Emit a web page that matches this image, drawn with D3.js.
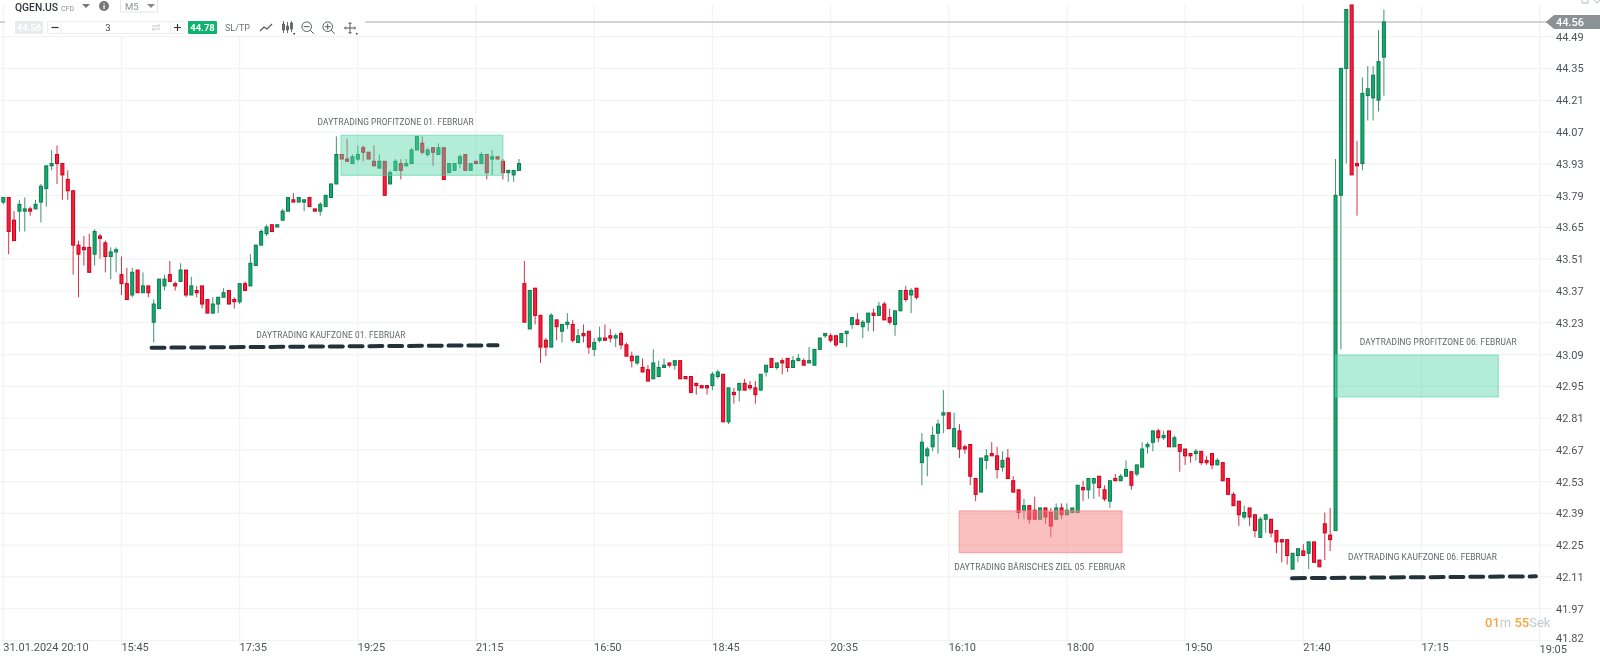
<!DOCTYPE html>
<html>
<head>
<meta charset="utf-8">
<title>QGEN.US M5</title>
<script src="https://cdn.jsdelivr.net/npm/d3@7"></script>
<style>
html, body { margin: 0; padding: 0; background: #fff; overflow: hidden; }
svg { display: block; font-family: Roboto, sans-serif; filter: blur(0.35px); }
.axis text { font-family: Roboto, sans-serif; font-size: 11px; fill: #4f5459; }
.axis .domain { display: none; }
.note { font-family: Roboto, sans-serif; font-size: 8.3px; fill: #5f6468; }
</style>
</head>
<body>
<div id="chart"></div>
<script>
// 5 minute bars
const opens = [
  43.76,43.78,43.68,43.72,43.72,43.73,43.73,43.76,43.82,43.92,
  43.97,43.93,43.86,43.81,43.57,43.56,43.56,43.53,43.61,43.58,
  43.52,43.54,43.44,43.40,43.35,43.46,43.36,43.39,43.23,43.29,
  43.39,43.44,43.40,43.41,43.46,43.35,43.37,43.39,43.33,43.27,
  43.31,43.34,43.37,43.33,43.32,43.40,43.39,43.48,43.57,43.62,
  43.66,43.65,43.68,43.72,43.77,43.76,43.76,43.78,43.73,43.72,
  43.74,43.78,43.84,43.97,43.95,43.93,43.95,44.00,43.98,43.94,
  43.91,43.94,43.84,43.90,43.93,43.92,43.93,43.99,44.02,43.97,
  44.00,43.97,44.00,43.89,43.90,43.93,43.97,43.90,43.94,43.93,
  43.97,43.95,43.96,43.94,43.89,43.88,43.90,43.40,43.20,43.38,
  43.26,43.15,43.12,43.24,43.19,43.22,43.22,43.14,43.18,43.19,
  43.11,43.15,43.16,43.17,43.16,43.18,43.13,43.08,43.05,43.03,
  43.02,42.98,42.99,43.03,43.05,43.04,43.06,42.99,42.99,42.96,
  42.95,42.95,42.95,42.99,43.00,42.79,42.92,42.93,42.96,42.95,
  42.94,42.93,43.01,43.07,43.03,43.06,43.07,43.03,43.06,43.06,
  43.05,43.04,43.11,43.17,43.17,43.17,43.14,43.18,43.22,43.24,
  43.21,43.23,43.27,43.26,43.31,43.25,43.22,43.28,43.37,43.35,
  43.38,42.61,42.64,42.68,42.74,42.82,42.83,42.68,42.75,42.68,
  42.69,42.54,42.48,42.62,42.65,42.64,42.59,42.63,42.53,42.49,
  42.40,42.42,42.40,42.36,42.41,42.39,42.36,42.41,42.38,42.39,
  42.39,42.50,42.49,42.52,42.55,42.49,42.44,42.54,42.53,42.55,
  42.57,42.56,42.59,42.68,42.70,42.75,42.72,42.75,42.68,42.69,
  42.67,42.65,42.65,42.66,42.62,42.65,42.60,42.61,42.54,42.47,
  42.44,42.37,42.41,42.38,42.28,42.36,42.36,42.31,42.27,42.27,
  42.14,42.20,42.22,42.21,42.26,42.18,42.34,42.29,42.31,43.79,
  44.35,44.63,43.93,43.93,44.23,44.22,44.21,44.40
];
const highs = [
  43.78,43.78,43.72,43.77,43.78,43.74,43.77,43.84,43.92,43.99,
  44.01,43.93,43.90,43.81,43.59,43.61,43.62,43.64,43.62,43.59,
  43.56,43.56,43.52,43.47,43.47,43.46,43.45,43.39,43.33,43.42,
  43.44,43.50,43.41,43.49,43.46,43.43,43.39,43.39,43.33,43.34,
  43.34,43.38,43.37,43.34,43.40,43.41,43.53,43.57,43.64,43.66,
  43.66,43.66,43.73,43.78,43.80,43.78,43.77,43.78,43.73,43.76,
  43.79,43.84,44.05,43.97,44.04,43.97,44.01,44.01,43.98,44.01,
  43.97,43.94,43.90,43.95,43.95,43.95,44.00,44.05,44.05,44.00,
  44.00,44.02,44.00,43.93,43.93,43.97,43.97,43.93,43.94,43.98,
  43.97,43.99,43.96,43.95,43.90,43.90,43.95,43.50,43.37,43.38,
  43.26,43.16,43.27,43.24,43.22,43.27,43.24,43.20,43.22,43.19,
  43.16,43.21,43.22,43.20,43.18,43.19,43.14,43.10,43.08,43.07,
  43.04,43.11,43.06,43.07,43.05,43.06,43.06,42.99,42.99,42.96,
  42.95,42.95,43.01,43.02,43.00,42.94,42.94,42.96,42.98,42.97,
  42.97,43.00,43.04,43.07,43.05,43.07,43.07,43.08,43.09,43.07,
  43.12,43.11,43.16,43.18,43.18,43.17,43.18,43.19,43.25,43.27,
  43.24,43.27,43.29,43.32,43.32,43.29,43.28,43.37,43.39,43.38,
  43.38,42.74,42.68,42.77,42.80,42.93,42.83,42.83,42.78,42.69,
  42.69,42.54,42.63,42.67,42.70,42.68,42.66,42.67,42.55,42.49,
  42.45,42.42,42.46,42.41,42.41,42.41,42.43,42.43,42.43,42.41,
  42.51,42.53,42.54,42.54,42.55,42.51,42.53,42.56,42.56,42.62,
  42.57,42.60,42.70,42.70,42.75,42.76,42.75,42.75,42.73,42.69,
  42.67,42.65,42.67,42.66,42.64,42.65,42.63,42.61,42.54,42.48,
  42.44,42.42,42.41,42.38,42.37,42.38,42.36,42.31,42.27,42.27,
  42.21,42.23,42.25,42.26,42.26,42.18,42.39,42.41,43.95,44.35,
  44.61,44.63,44.03,44.31,44.36,44.36,44.52,44.61
];
const lows = [
  43.75,43.53,43.59,43.63,43.63,43.70,43.73,43.67,43.74,43.90,
  43.84,43.77,43.77,43.44,43.34,43.48,43.45,43.48,43.51,43.45,
  43.42,43.45,43.35,43.33,43.34,43.36,43.36,43.34,43.14,43.29,
  43.37,43.41,43.37,43.41,43.34,43.35,43.34,43.29,43.27,43.27,
  43.27,43.34,43.31,43.29,43.31,43.37,43.39,43.48,43.57,43.61,
  43.63,43.65,43.68,43.72,43.76,43.76,43.72,43.74,43.72,43.70,
  43.74,43.78,43.84,43.95,43.94,43.93,43.94,43.94,43.95,43.92,
  43.91,43.79,43.84,43.90,43.86,43.92,43.93,43.99,43.97,43.96,
  43.92,43.97,43.86,43.89,43.90,43.91,43.90,43.90,43.93,43.93,
  43.86,43.88,43.95,43.86,43.85,43.85,43.90,43.23,43.20,43.22,
  43.05,43.08,43.12,43.15,43.14,43.20,43.14,43.14,43.14,43.09,
  43.08,43.14,43.15,43.14,43.12,43.11,43.08,43.03,43.04,43.01,
  42.97,42.98,42.99,43.03,43.03,43.02,42.98,42.98,42.92,42.91,
  42.94,42.91,42.93,42.98,42.79,42.78,42.87,42.88,42.93,42.93,
  42.87,42.93,42.99,43.03,43.02,43.00,43.01,43.03,43.06,43.04,
  43.05,43.04,43.11,43.16,43.14,43.12,43.14,43.12,43.20,43.22,
  43.16,43.19,43.19,43.26,43.24,43.22,43.17,43.28,43.32,43.27,
  43.33,42.51,42.55,42.66,42.65,42.74,42.76,42.68,42.63,42.65,
  42.51,42.44,42.48,42.58,42.64,42.54,42.57,42.54,42.48,42.36,
  42.36,42.34,42.36,42.36,42.34,42.28,42.36,42.36,42.38,42.39,
  42.39,42.44,42.45,42.45,42.46,42.44,42.41,42.53,42.53,42.55,
  42.49,42.55,42.59,42.65,42.66,42.70,42.71,42.68,42.68,42.57,
  42.60,42.61,42.62,42.60,42.60,42.58,42.60,42.53,42.47,42.42,
  42.33,42.36,42.33,42.28,42.28,42.30,42.28,42.21,42.17,42.16,
  42.14,42.17,42.20,42.14,42.17,42.15,42.18,42.22,42.31,43.11,
  43.93,43.88,43.70,43.90,44.12,44.12,44.16,44.23
];
const closes = [
  43.78,43.63,43.59,43.75,43.73,43.72,43.75,43.83,43.92,43.93,
  43.93,43.88,43.81,43.57,43.53,43.55,43.45,43.63,43.60,43.52,
  43.54,43.55,43.40,43.33,43.45,43.36,43.39,43.36,43.31,43.42,
  43.42,43.41,43.39,43.46,43.35,43.39,43.36,43.31,43.27,43.31,
  43.34,43.36,43.31,43.32,43.40,43.37,43.49,43.57,43.63,43.65,
  43.63,43.66,43.72,43.78,43.76,43.78,43.77,43.74,43.72,43.75,
  43.79,43.84,43.97,43.95,43.94,43.96,43.97,43.98,43.95,43.92,
  43.94,43.79,43.89,43.94,43.90,43.93,43.99,44.05,43.98,43.99,
  43.98,44.00,43.86,43.93,43.93,43.96,43.90,43.93,43.93,43.97,
  43.89,43.96,43.95,43.89,43.90,43.90,43.93,43.23,43.37,43.26,
  43.12,43.12,43.26,43.21,43.22,43.23,43.15,43.17,43.17,43.12,
  43.14,43.16,43.15,43.16,43.17,43.13,43.08,43.06,43.08,43.01,
  42.97,43.05,43.03,43.04,43.04,43.06,42.98,42.98,42.92,42.95,
  42.94,42.94,43.00,43.01,42.79,42.94,42.91,42.96,42.93,42.94,
  42.91,43.00,43.04,43.03,43.05,43.05,43.03,43.06,43.07,43.04,
  43.06,43.11,43.16,43.18,43.15,43.13,43.18,43.19,43.25,43.22,
  43.23,43.27,43.26,43.30,43.24,43.23,43.28,43.37,43.33,43.37,
  43.34,42.70,42.67,42.73,42.78,42.83,42.76,42.76,42.67,42.67,
  42.55,42.47,42.63,42.64,42.64,42.58,42.62,42.54,42.48,42.39,
  42.42,42.36,42.36,42.41,42.37,42.33,42.41,42.38,42.40,42.41,
  42.51,42.49,42.54,42.54,42.50,42.45,42.53,42.53,42.55,42.58,
  42.51,42.60,42.67,42.69,42.75,42.72,42.73,42.68,42.72,42.66,
  42.64,42.64,42.66,42.61,42.61,42.60,42.62,42.53,42.47,42.42,
  42.38,42.39,42.37,42.31,42.36,42.38,42.30,42.26,42.26,42.20,
  42.21,42.23,42.20,42.26,42.17,42.15,42.30,42.27,43.79,44.35,
  44.61,43.88,43.92,44.24,44.26,44.32,44.38,44.555
];

const priceTicks = [44.49,44.35,44.209,44.069,43.929,43.789,43.648,43.508,43.368,43.228,
  43.087,42.947,42.807,42.666,42.526,42.386,42.246,42.106,41.966,41.824];
const barTicks = [0,22,44,66,88,110,132,154,176,198,220,242,264,286];
const timeLabels = ["31.01.2024 20:10","15:45","17:35","19:25","21:15","16:50","18:45",
  "20:35","16:10","18:00","19:50","21:40","17:15","19:05"];

const lastPrice = 44.555;
const lastPriceLabel = "44.56";

// zones: first bar, last bar, upper price, lower price
const greenZoneBars = [[62.86,93.0],[248.0,278.3]];
const greenZonePrices = [[44.055,43.878],[43.085,42.90]];
const redZoneBars = [177.96,208.25];
const redZonePrices = [42.397,42.213];

// thick dashed lines
const dashBars = [[27.6,92.0],[239.9,285.3]];
const dashPrices = [[43.117,43.128],[42.10,42.108]];

const noteTexts = ["DAYTRADING PROFITZONE 01. FEBRUAR","DAYTRADING KAUFZONE 01. FEBRUAR",
  "DAYTRADING BÄRISCHES ZIEL 05. FEBRUAR","DAYTRADING PROFITZONE 06. FEBRUAR","DAYTRADING KAUFZONE 06. FEBRUAR"];
const noteBars = [58.5,47.1,177.0,252.5,250.3];
const notePrices = [44.101,43.159,42.137,43.128,42.178];
const noteWidths = [156,149,171,157,149];

const width = 1600, height = 661;
const svg = d3.select("#chart").append("svg").attr("width", width).attr("height", height);

const x = d3.scaleLinear().domain([0, 242]).range([3.3, 1303.3]);
const y = d3.scaleLinear().domain([44.49, 41.824]).range([36.7, 640.7]);

const green = "#13ac70", greenDark = "#0a7b4e", red = "#fb1f3c", redDark = "#c6001c";

// grid
const grid = svg.append("g").attr("stroke", "#f2f3f4").attr("stroke-width", 1.2);
grid.selectAll(".h").data(priceTicks).enter().append("line")
  .attr("x1", 0).attr("x2", 1553).attr("y1", d => y(d)).attr("y2", d => y(d));
grid.selectAll(".v").data(barTicks).enter().append("line")
  .attr("x1", d => x(d)).attr("x2", d => x(d)).attr("y1", 5).attr("y2", 646);

// last price line
svg.append("line").attr("x1", 0).attr("x2", 1548)
  .attr("y1", y(lastPrice)).attr("y2", y(lastPrice))
  .attr("stroke", "#c3c6c9").attr("stroke-width", 1.5);

// candles
const bars = d3.range(opens.length);
const candle = svg.append("g").selectAll("g").data(bars).enter().append("g");
candle.append("line")
  .attr("x1", d => x(d)).attr("x2", d => x(d))
  .attr("y1", d => y(highs[d])).attr("y2", d => y(lows[d]))
  .attr("stroke", d => closes[d] >= opens[d] ? greenDark : redDark)
  .attr("stroke-opacity", 0.8)
  .attr("stroke-width", 1);
candle.append("rect")
  .attr("x", d => x(d) - 1.5).attr("width", 3)
  .attr("y", d => y(Math.max(opens[d], closes[d])))
  .attr("height", d => Math.abs(y(opens[d]) - y(closes[d])))
  .attr("fill", d => closes[d] >= opens[d] ? green : red)
  .attr("stroke", d => closes[d] >= opens[d] ? greenDark : redDark)
  .attr("stroke-width", 1);

// zones sit on top of the candles
greenZoneBars.forEach(function(b, i) {
  svg.append("rect")
    .attr("x", x(b[0])).attr("width", x(b[1]) - x(b[0]))
    .attr("y", y(greenZonePrices[i][0])).attr("height", y(greenZonePrices[i][1]) - y(greenZonePrices[i][0]))
    .attr("fill", "rgba(86,213,169,0.45)")
    .attr("stroke", "rgba(86,213,169,0.55)").attr("stroke-width", 1.2);
});
svg.append("rect")
  .attr("x", x(redZoneBars[0])).attr("width", x(redZoneBars[1]) - x(redZoneBars[0]))
  .attr("y", y(redZonePrices[0])).attr("height", y(redZonePrices[1]) - y(redZonePrices[0]))
  .attr("fill", "rgba(245,130,130,0.5)")
  .attr("stroke", "rgba(245,130,130,0.6)").attr("stroke-width", 1.2);

dashBars.forEach(function(b, i) {
  svg.append("line")
    .attr("x1", x(b[0])).attr("x2", x(b[1]))
    .attr("y1", y(dashPrices[i][0])).attr("y2", y(dashPrices[i][1]))
    .attr("stroke", "#22323a").attr("stroke-width", 4)
    .attr("stroke-linecap", "round").attr("stroke-dasharray", "13 6.8");
});

svg.selectAll(".note").data(noteTexts).enter().append("text")
  .attr("class", "note")
  .attr("x", (d, i) => x(noteBars[i]))
  .attr("y", (d, i) => y(notePrices[i]))
  .attr("textLength", (d, i) => noteWidths[i])
  .attr("lengthAdjust", "spacing")
  .text(d => d);

// axes
const yAxis = d3.axisRight(y).tickValues(priceTicks).tickSize(0).tickFormat(d3.format(".2f"));
svg.append("g").attr("class", "axis").attr("transform", "translate(1556,0)").call(yAxis)
  .selectAll("text").attr("x", 0).attr("y", (d, i) => i === priceTicks.length - 1 ? -2.5 : 0);

const xAxis = d3.axisBottom(x).tickValues(barTicks).tickSize(0).tickFormat((d, i) => timeLabels[i]);
svg.append("g").attr("class", "axis").attr("transform", "translate(0,640.7)").call(xAxis)
  .selectAll("text").attr("text-anchor", "start").attr("dx", "-0.6")
  .attr("y", (d, i) => i === barTicks.length - 1 ? 4.5 : 3);

// last price tag
const tagY = y(lastPrice);
svg.append("path")
  .attr("d", d3.line()([[1545.7, tagY], [1554, tagY - 7], [1600, tagY - 7], [1600, tagY + 7], [1554, tagY + 7]]))
  .attr("fill", "#8b9297");
svg.append("text").attr("x", 1556).attr("y", tagY + 4).attr("fill", "#fff")
  .attr("font-size", 11).attr("font-weight", 500).text(lastPriceLabel);

// countdown
const timer = svg.append("text").attr("x", 1485).attr("y", 627).attr("font-size", 13);
timer.append("tspan").attr("fill", "#f8a340").attr("font-weight", 500).text("01");
timer.append("tspan").attr("fill", "#c4cacf").text("m ");
timer.append("tspan").attr("fill", "#f8a340").attr("font-weight", 500).text("55");
timer.append("tspan").attr("fill", "#c4cacf").text("Sek");

// toolbar
const bar = svg.append("g");
bar.append("rect").attr("x", 5).attr("y", 0).attr("width", 360).attr("height", 36).attr("fill", "#fff");
bar.append("text").attr("x", 15).attr("y", 11).attr("font-size", 10.3).attr("font-weight", 500).attr("fill", "#30363b").text("QGEN.US");
bar.append("text").attr("x", 61).attr("y", 11).attr("font-size", 7).attr("fill", "#8a8f94").text("CFD");
bar.append("path").attr("d", "M82,4 L90,4 L86,8 Z").attr("fill", "#777");
bar.append("circle").attr("cx", 104).attr("cy", 6).attr("r", 5).attr("fill", "#777");
bar.append("text").attr("x", 104).attr("y", 9).attr("font-size", 8).attr("font-weight", 700).attr("text-anchor", "middle").attr("fill", "#fff").text("i");
bar.append("rect").attr("x", 120.5).attr("y", -1).attr("width", 37).attr("height", 13).attr("fill", "#fff").attr("stroke", "#e3e5e7");
bar.append("text").attr("x", 125).attr("y", 10).attr("font-size", 9.5).attr("fill", "#8a8f94").text("M5");
bar.append("path").attr("d", "M147,4 L155,4 L151,8 Z").attr("fill", "#888");

bar.append("rect").attr("x", 15).attr("y", 21).attr("width", 28).attr("height", 13).attr("rx", 1).attr("fill", "#e9eaeb");
bar.append("text").attr("x", 29).attr("y", 31).attr("font-size", 9.5).attr("font-weight", 700).attr("text-anchor", "middle").attr("fill", "#fff").text("44.56");
bar.append("rect").attr("x", 47.5).attr("y", 21.5).attr("width", 136.5).attr("height", 12).attr("fill", "#fff").attr("stroke", "#eceef0");
bar.append("line").attr("x1", 61).attr("x2", 61).attr("y1", 22).attr("y2", 33).attr("stroke", "#eceef0");
bar.append("line").attr("x1", 170.5).attr("x2", 170.5).attr("y1", 22).attr("y2", 33).attr("stroke", "#eceef0");
bar.append("path").attr("d", "M51.5,27.5 H58.5").attr("stroke", "#333").attr("stroke-width", 1.2);
bar.append("path").attr("d", "M174,27.5 H181 M177.5,24 V31").attr("stroke", "#333").attr("stroke-width", 1.2);
bar.append("text").attr("x", 108).attr("y", 31).attr("font-size", 9.5).attr("text-anchor", "middle").attr("fill", "#444").text("3");
bar.append("path").attr("d", "M152,26 H160 L158,24 M160,29 H152 L154,31").attr("fill", "none").attr("stroke", "#c4c7ca");
bar.append("rect").attr("x", 188).attr("y", 21).attr("width", 29).attr("height", 13).attr("rx", 1).attr("fill", "#0fb26e");
bar.append("text").attr("x", 202.5).attr("y", 31).attr("font-size", 9.5).attr("font-weight", 700).attr("text-anchor", "middle").attr("fill", "#fff").text("44.78");
bar.append("text").attr("x", 225).attr("y", 31).attr("font-size", 9).attr("fill", "#6d7277").text("SL/TP");

const icon = "#555b60";
bar.append("path").attr("d", "M260,31 L264,27 L267,29 L272,24").attr("fill", "none").attr("stroke", icon).attr("stroke-width", 1.2);
bar.append("path").attr("d", "M283.5,21 V33 M287.5,22 V33 M291.5,21 V32 M282.5,24 h2 v6 h-2 z M286.5,26 h2 v4 h-2 z M290.5,23 h2 v6 h-2 z")
  .attr("fill", "#fff").attr("stroke", icon).attr("stroke-width", 0.9);
bar.append("rect").attr("x", 293.5).attr("y", 33).attr("width", 1.5).attr("height", 1.5).attr("fill", "#333");
[[306.7, "M303.7,26.7 H309.7"], [327.7, "M324.7,26.7 H330.7 M327.7,23.7 V29.7"]].forEach(function(z) {
  bar.append("circle").attr("cx", z[0]).attr("cy", 26.7).attr("r", 4.8).attr("fill", "none").attr("stroke", icon);
  bar.append("path").attr("d", z[1] + " M" + (z[0] + 3.5) + ",30.2 L" + (z[0] + 7) + ",33.7").attr("stroke", icon);
});
bar.append("path").attr("d", "M350,22.5 V33.5 M344.5,28 H355.5 M348.5,24 L350,22.5 L351.5,24 M348.5,32 L350,33.5 L351.5,32 M346,26.5 L344.5,28 L346,29.5 M354,26.5 L355.5,28 L354,29.5")
  .attr("fill", "none").attr("stroke", icon);
bar.append("rect").attr("x", 356).attr("y", 33).attr("width", 1.5).attr("height", 1.5).attr("fill", "#333");

// window icons at the top right
svg.append("path").attr("d", "M1582,0 V3 H1588 V0").attr("fill", "none").attr("stroke", "#b5b9bc");
svg.append("path").attr("d", "M1594,0 L1597,3 M1600,0 L1597,3").attr("fill", "none").attr("stroke", "#b5b9bc");
</script>
</body>
</html>
